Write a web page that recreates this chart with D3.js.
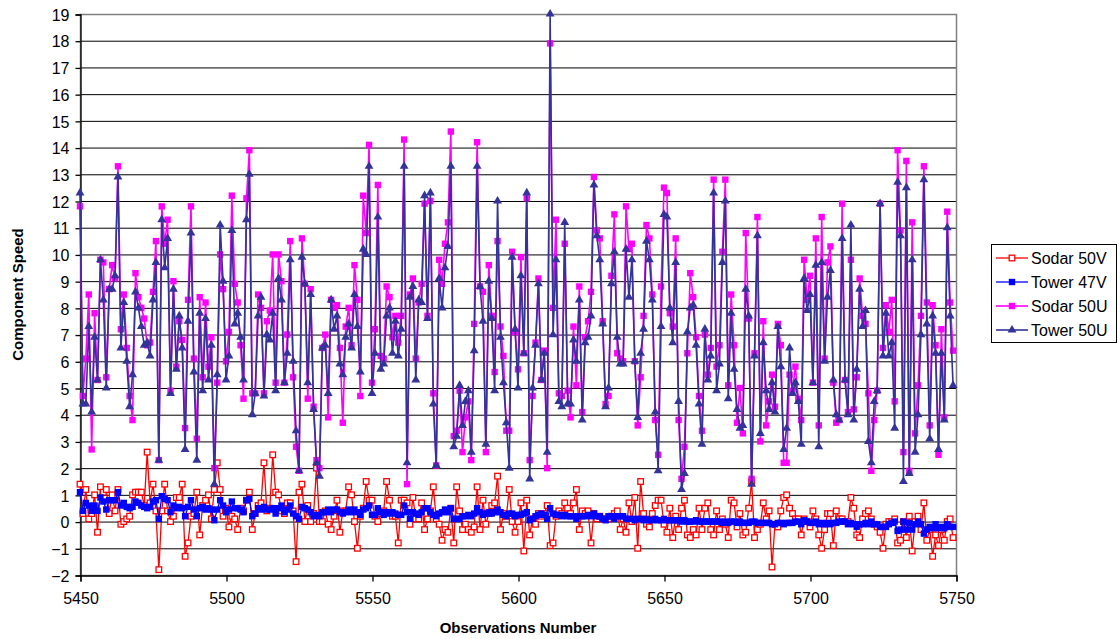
<!DOCTYPE html>
<html><head><meta charset="utf-8">
<script src="https://cdn.jsdelivr.net/npm/d3@7"></script>
<style>
body{margin:0;background:#fff;}
svg{font-family:"Liberation Sans",Arial,Helvetica,sans-serif;}
</style></head>
<body><svg id="chart" width="1120" height="639"></svg>
<script>
// ---------------- data ----------------
const obsStart = 5450;
const xTickValues = [5450, 5500, 5550, 5600, 5650, 5700, 5750];
const yTickValues = [-2,-1,0,1,2,3,4,5,6,7,8,9,10,11,12,13,14,15,16,17,18,19];
const seriesNames = ["Sodar 50V", "Tower 47V", "Sodar 50U", "Tower 50U"];

const sodar50V = [
1.4,0.3,1.2,0.1,0.3,1.0,-0.4,1.3,1.1,1.2, 0.3,1.0,0.4,1.2,-0.1,0.0,0.1,0.2,1.0,1.1,
1.1,1.1,0.6,2.6,0.7,1.4,0.4,-1.8,0.4,1.4, 0.4,0.0,0.2,0.9,0.9,1.4,-1.3,-0.8,0.2,0.3,
1.1,-0.5,0.6,0.8,1.0,0.1,1.2,2.2,1.2,0.2, 0.5,-0.2,0.2,0.1,-0.3,0.5,0.4,0.8,1.1,-0.3,
0.3,0.6,0.7,2.2,0.4,0.5,2.5,1.1,1.0,0.4, 0.3,0.7,0.7,0.4,-1.5,1.1,1.4,0.0,0.6,0.0,
0.3,2.0,0.0,0.0,0.4,-0.1,-0.3,0.2,0.8,-0.4, 0.4,0.4,1.3,1.0,0.0,-1.0,0.2,0.5,1.5,0.8,
0.8,0.2,0.0,0.3,0.4,1.5,0.8,0.2,0.2,-0.8, 0.8,0.8,0.7,-0.1,0.9,0.1,0.1,0.7,-0.3,0.1,
0.4,1.3,0.1,-0.1,-0.7,-0.3,-0.4,0.5,-0.8,1.3, 0.4,-0.3,-0.1,-0.3,-0.4,-0.2,1.3,-0.3,0.8,-0.1,
0.3,0.6,0.7,1.7,-0.3,0.3,0.2,1.2,0.0,-0.4, 0.0,0.7,-1.1,0.8,-0.5,0.1,-0.1,0.3,0.2,0.3,
0.6,-0.9,-0.8,0.2,0.4,0.3,0.7,0.5,0.3,0.7, 1.2,-0.3,0.4,0.3,0.4,-0.8,0.3,0.1,0.2,0.1,
0.1,0.1,0.2,0.3,0.4,-0.3,0.1,-0.4,0.7,0.0, 0.9,-1.0,1.5,0.3,-0.1,-0.2,0.3,0.6,0.8,0.8,
-0.1,-0.4,0.5,-0.6,0.2,-0.3,0.5,0.8,-0.5,-0.6, -0.3,-0.5,0.5,-0.3,0.5,0.7,-0.3,-0.5,0.4,-0.3,
0.1,-0.1,-0.6,0.8,0.7,-0.2,0.3,-0.5,-0.4,0.5, 1.5,-0.6,-0.3,-0.1,0.7,0.1,0.4,-1.7,-0.1,-0.2,
0.4,0.9,1.0,0.5,0.3,0.1,0.1,-0.5,0.1,0.0, -0.2,0.4,0.1,-0.5,-1.0,-0.3,0.3,0.3,-0.9,0.4,
0.1,0.1,0.0,0.0,0.9,0.5,-0.5,-0.6,0.1,0.3, 0.4,0.1,-0.1,-0.2,-0.4,-1.0,-0.1,0.0,0.0,0.1,
-0.8,-0.7,0.0,-0.6,0.2,-1.1,0.0,0.2,-0.3,0.7, -0.7,-0.3,-1.3,-0.5,-0.9,-0.3,-0.7,0.0,0.1,-0.6
];

const tower47V = [
1.1,0.4,0.7,0.6,0.4,0.6,0.4,0.9,0.75,0.45, 0.8,0.8,0.8,1.1,0.6,0.7,0.55,0.5,0.55,0.75,
0.7,0.6,0.55,0.5,0.55,0.75,0.8,0.1,0.95,0.85, 0.8,0.35,0.6,0.5,0.55,0.5,0.2,0.55,0.8,0.45,
0.2,0.5,0.55,0.45,0.5,0.45,0.05,0.45,0.8,0.6, 0.35,0.45,0.75,0.5,0.5,0.45,0.35,0.8,0.85,0.2,
0.3,0.5,0.45,0.55,0.45,0.45,0.5,0.3,0.5,0.6, 0.35,0.45,0.6,0.3,0.2,0.1,0.55,0.5,0.45,0.35,
0.2,0.25,0.2,0.35,0.35,0.45,0.35,0.45,0.45,0.35, 0.3,0.35,0.45,0.35,0.45,0.35,0.25,0.45,0.5,0.6,
0.25,0.25,0.5,0.35,0.25,0.35,0.3,0.35,0.3,0.25, 0.25,0.6,0.35,0.1,0.35,0.3,0.25,0.35,0.5,0.5,
0.35,0.25,0.2,0.3,0.35,0.45,0.35,0.5,0.1,0.1, 0.1,0.2,0.2,0.25,0.2,0.3,0.5,0.35,0.25,0.3,
0.35,0.3,0.35,0.45,0.35,0.25,0.2,0.3,0.3,0.2, 0.25,0.25,0.3,0.35,0.05,0.1,0.2,0.25,0.3,0.25,
0.1,0.5,0.3,0.25,0.25,0.2,0.25,0.2,0.2,0.2, 0.1,0.2,0.2,0.2,0.25,0.2,0.3,0.2,0.2,0.1,
0.05,0.2,0.2,0.1,0.2,0.2,0.2,0.1,0.1,0.1, 0.05,0.1,0.1,0.05,0.1,0.05,0.05,0.1,0.05,0.05,
0.1,0.05,0.05,0.05,0.05,0.05,0.0,0.05,0.0,0.0, 0.0,0.05,0.0,0.0,0.0,0.0,0.0,0.0,0.0,0.0,
-0.05,0.0,-0.05,0.0,0.0,-0.05,0.0,-0.05,-0.05,-0.05, 0.0,0.0,-0.05,-0.05,-0.05,-0.05,-0.05,-0.1,-0.1,-0.05,
-0.05,-0.1,-0.05,-0.05,-0.05,0.0,0.0,-0.1,0.05,0.0, -0.05,-0.05,0.0,-0.1,-0.05,-0.1,-0.05,-0.1,-0.05,-0.05,
0.0,0.0,0.0,-0.1,-0.05,-0.1,-0.2,-0.1,-0.1,-0.05, -0.1,0.0,-0.1,-0.1,-0.2,-0.2,-0.2,-0.1,-0.05,0.0,
-0.35,-0.3,0.0,-0.3,-0.05,-0.3,-0.1,0.0,-0.1,-0.45, -0.3,-0.2,-0.25,-0.1,-0.25,-0.2,-0.25,-0.1,-0.2,-0.2
];

const sodar50U = [
11.8,4.7,6.1,8.5,2.7,7.8,5.3,9.8,9.7,5.4, 8.7,9.6,9.1,13.3,7.2,8.5,6.5,4.7,3.8,9.3,
8.4,8.0,7.6,6.6,6.7,8.6,10.5,2.3,11.8,10.4, 11.3,4.9,9.0,5.8,7.5,6.8,3.5,8.3,11.8,6.1,
3.1,8.4,5.4,8.2,5.8,6.9,2.0,5.2,10.0,8.7, 6.0,7.1,12.2,8.9,8.2,6.6,4.6,12.1,13.9,4.8,
4.8,8.5,8.0,4.8,7.5,7.9,10.0,5.2,10.0,9.0, 5.2,7.0,10.5,5.4,2.8,1.9,10.6,8.9,4.6,8.7,
4.3,2.3,2.0,6.5,7.0,3.9,8.3,8.0,8.1,6.5, 3.7,7.3,8.0,6.6,9.6,8.3,4.7,12.2,10.8,14.1,
5.2,7.2,12.6,6.2,6.1,8.8,8.4,6.9,7.7,6.7, 7.7,14.3,1.4,8.5,9.1,6.1,8.2,8.9,11.9,7.7,
12.0,4.8,2.1,9.8,8.9,10.4,11.2,14.6,3.2,3.4, 4.9,2.6,3.9,4.5,2.3,7.4,14.2,8.8,8.6,2.6,
9.6,7.7,5.6,10.5,7.3,6.2,3.4,3.4,10.1,7.1, 5.7,9.9,6.3,12.1,2.3,4.7,6.7,9.1,5.3,6.4,
2.0,17.9,8.0,11.3,4.8,4.7,10.4,4.9,3.9,7.3, 5.1,8.8,4.1,6.9,7.5,8.6,12.9,10.9,10.6,7.5,
4.4,4.7,9.2,11.5,6.3,6.1,6.0,11.8,10.2,10.4, 6.0,3.6,5.4,7.7,11.1,10.6,8.5,3.8,2.5,8.8,
12.5,12.3,7.8,7.3,10.6,3.8,1.6,2.8,6.3,9.3, 8.4,6.9,4.7,3.4,7.0,5.5,6.5,12.8,5.8,6.6,
10.1,12.8,5.1,8.5,6.6,3.7,5.0,3.3,10.8,7.6, 1.6,6.3,11.4,3.0,7.5,3.6,4.5,5.5,4.3,7.4,
6.6,2.2,2.2,5.5,4.9,5.8,4.6,3.8,9.8,8.3, 9.2,5.2,10.6,3.6,11.4,6.1,9.7,10.3,5.2,3.7,
3.8,11.9,5.3,4.1,9.8,4.2,5.4,9.1,7.7,7.4, 4.8,1.9,3.8,4.9,11.9,6.5,8.1,7.1,8.3,4.5,
13.9,10.9,2.6,13.5,1.9,11.2,3.3,5.1,7.7,13.3, 8.2,3.6,8.1,6.6,2.5,7.2,3.9,11.6,8.2,6.4
];

const tower50U = [
12.3,4.4,4.4,7.3,4.1,6.9,5.3,9.8,8.3,5.0, 8.7,8.7,9.2,12.9,6.5,8.2,6.0,4.3,5.5,8.6,
8.0,7.3,6.6,6.7,6.2,8.3,9.7,2.3,11.3,9.5, 10.6,4.8,8.7,5.7,7.7,6.5,2.7,7.5,10.8,5.6,
2.3,7.8,4.9,7.6,5.3,6.6,1.4,5.5,11.1,9.0, 5.3,6.2,10.9,7.4,7.8,6.9,5.3,11.3,13.0,4.0,
4.8,7.7,8.4,4.7,7.0,6.8,7.8,4.9,9.1,8.3, 5.2,6.3,9.8,6.0,3.4,1.9,9.9,8.9,5.2,8.5,
4.2,2.2,1.7,6.5,6.6,4.8,8.3,7.2,7.7,5.9, 5.5,6.9,7.4,6.5,8.5,7.3,5.6,10.2,10.0,13.3,
4.8,6.3,11.4,5.7,5.9,7.7,8.0,6.3,7.5,6.2, 7.2,13.3,2.2,8.4,8.8,5.3,8.3,8.2,12.2,7.6,
12.3,4.4,2.1,9.1,8.0,9.5,10.3,13.3,2.8,3.2, 5.1,3.6,4.5,4.9,2.6,6.4,13.3,8.8,7.5,2.9,
9.0,7.6,4.9,12.0,6.9,5.2,3.7,2.0,9.9,7.2, 5.0,9.2,6.3,12.3,1.6,5.0,6.6,8.9,5.3,6.3,
2.6,19.0,7.0,9.8,4.5,4.3,11.2,4.4,4.4,6.8, 6.0,8.3,3.8,6.7,6.9,7.7,12.6,10.7,9.8,7.4,
4.3,5.0,8.9,10.1,6.9,5.9,5.9,10.2,8.4,9.8, 6.0,3.9,6.3,7.2,10.5,9.8,8.3,4.1,1.9,7.3,
11.5,11.4,8.0,6.7,9.7,4.5,1.2,1.8,7.1,8.0, 8.1,6.6,4.4,2.9,7.2,5.3,6.2,12.3,4.9,5.9,
9.7,12.0,4.6,7.8,5.7,4.2,3.5,3.6,8.7,7.7, 1.4,6.2,10.7,3.3,6.7,4.9,4.2,5.2,4.1,7.3,
5.8,2.7,3.5,6.5,4.8,5.2,4.5,2.9,9.1,7.9, 8.5,5.2,9.6,2.8,9.7,6.0,8.4,9.4,5.3,4.0,
3.8,10.6,5.3,4.0,11.1,3.8,5.7,8.7,7.3,7.9, 3.0,2.2,4.5,4.9,11.9,6.2,7.8,6.2,6.7,3.5,
12.7,10.7,1.5,12.5,1.8,9.8,2.6,4.0,7.0,12.8, 7.4,3.1,7.7,6.3,2.7,6.3,3.8,11.0,7.7,5.1
];

// ---------------- chart ----------------
const svg = d3.select("#chart");
const plot = {left: 80, right: 956, top: 14, bottom: 575};
const x = d3.scaleLinear().domain([5450, 5750]).range([plot.left, plot.right]);
const y = d3.scaleLinear().domain([-2, 19]).range([plot.bottom, plot.top]);

// gridlines
svg.append("g").selectAll("line").data(yTickValues.filter(v => v !== 19 && v !== -2)).join("line")
  .attr("x1", plot.left).attr("x2", plot.right)
  .attr("y1", d => y(d) + 0.5).attr("y2", d => y(d) + 0.5)
  .attr("stroke", "#000").attr("stroke-width", 1);

// plot border (grey)
svg.append("rect").attr("x", plot.left + 0.5).attr("y", plot.top + 0.5)
  .attr("width", plot.right - plot.left).attr("height", plot.bottom - plot.top)
  .attr("fill", "none").attr("stroke", "#808080").attr("stroke-width", 1.5);

// axes
const fs = 16;
const yAxis = d3.axisLeft(y).tickValues(yTickValues).tickSize(5).tickPadding(6).tickFormat(d3.format("d"));
const gy = svg.append("g").attr("transform", `translate(${plot.left + 0.5},0.5)`).call(yAxis);
const xAxis = d3.axisBottom(x).tickValues(xTickValues).tickSize(6).tickPadding(11).tickFormat(d3.format("d"));
const gx = svg.append("g").attr("transform", `translate(0.5,${plot.bottom + 0.5})`).call(xAxis);
[gx, gy].forEach(g => {
  g.select(".domain").attr("stroke", "#000").attr("stroke-width", 1.3);
  g.selectAll(".tick line").attr("stroke", "#000").attr("stroke-width", 1.3);
  g.selectAll(".tick text").attr("fill", "#000").style("font-size", fs + "px")
    .style("font-family", '"Liberation Sans",Arial,sans-serif');
});
gy.selectAll(".tick text").attr("dy", "0.36em");

// axis titles
svg.append("text").attr("x", (plot.left + plot.right) / 2).attr("y", 633)
  .attr("text-anchor", "middle").style("font-size", "15px").style("font-weight", "bold")
  .text("Observations Number");
svg.append("text").attr("transform", `translate(23,${(plot.top + plot.bottom) / 2}) rotate(-90)`)
  .attr("text-anchor", "middle").style("font-size", "15px").style("font-weight", "bold")
  .text("Component Speed");

// series
const series = [
  {name: seriesNames[0], values: sodar50V, color: "#FF0000", marker: "hollowSquare", width: 1.3},
  {name: seriesNames[1], values: tower47V, color: "#0000FF", marker: "square", width: 1.3},
  {name: seriesNames[2], values: sodar50U, color: "#FF00FF", marker: "square", width: 1.6},
  {name: seriesNames[3], values: tower50U, color: "#333399", marker: "triangle", width: 1.6}
];

function drawMarker(g, marker, color) {
  if (marker === "hollowSquare") {
    g.append("rect").attr("x", -2.8).attr("y", -2.8).attr("width", 5.6).attr("height", 5.6)
      .attr("fill", "#fff").attr("stroke", color).attr("stroke-width", 1.3);
  } else if (marker === "square") {
    g.append("rect").attr("x", -3.2).attr("y", -3.2).attr("width", 6.4).attr("height", 6.4)
      .attr("fill", color);
  } else {
    g.append("path").attr("d", d3.symbol(d3.symbolTriangle, 34)()).attr("fill", color);
  }
}

const clip = svg.append("clipPath").attr("id", "pc").append("rect")
  .attr("x", plot.left - 6).attr("y", plot.top - 6).attr("width", plot.right - plot.left + 12)
  .attr("height", plot.bottom - plot.top + 12);

const line = d3.line().x((d, i) => x(obsStart + i)).y(d => y(d));
const gSeries = svg.append("g").attr("clip-path", "url(#pc)");
series.forEach(s => {
  gSeries.append("path").datum(s.values).attr("d", line)
    .attr("fill", "none").attr("stroke", s.color).attr("stroke-width", s.width)
    .attr("stroke-linejoin", "round");
  const gm = gSeries.append("g");
  s.values.forEach((v, i) => {
    const m = gm.append("g").attr("transform", `translate(${x(obsStart + i)},${y(v)})`);
    drawMarker(m, s.marker, s.color);
  });
});

// legend
const lg = svg.append("g").attr("transform", "translate(991,244)");
lg.append("rect").attr("x", 0.5).attr("y", 0.5).attr("width", 125).attr("height", 98)
  .attr("fill", "#fff").attr("stroke", "#000").attr("stroke-width", 1);
series.forEach((s, i) => {
  const yy = 14 + i * 24;
  lg.append("line").attr("x1", 5).attr("x2", 37).attr("y1", yy).attr("y2", yy)
    .attr("stroke", s.color).attr("stroke-width", s.width);
  drawMarker(lg.append("g").attr("transform", `translate(21,${yy})`), s.marker, s.color);
  lg.append("text").attr("x", 40).attr("y", yy).attr("dy", "0.36em")
    .style("font-size", "16px").attr("fill", "#000").text(s.name);
});
</script></body></html>
